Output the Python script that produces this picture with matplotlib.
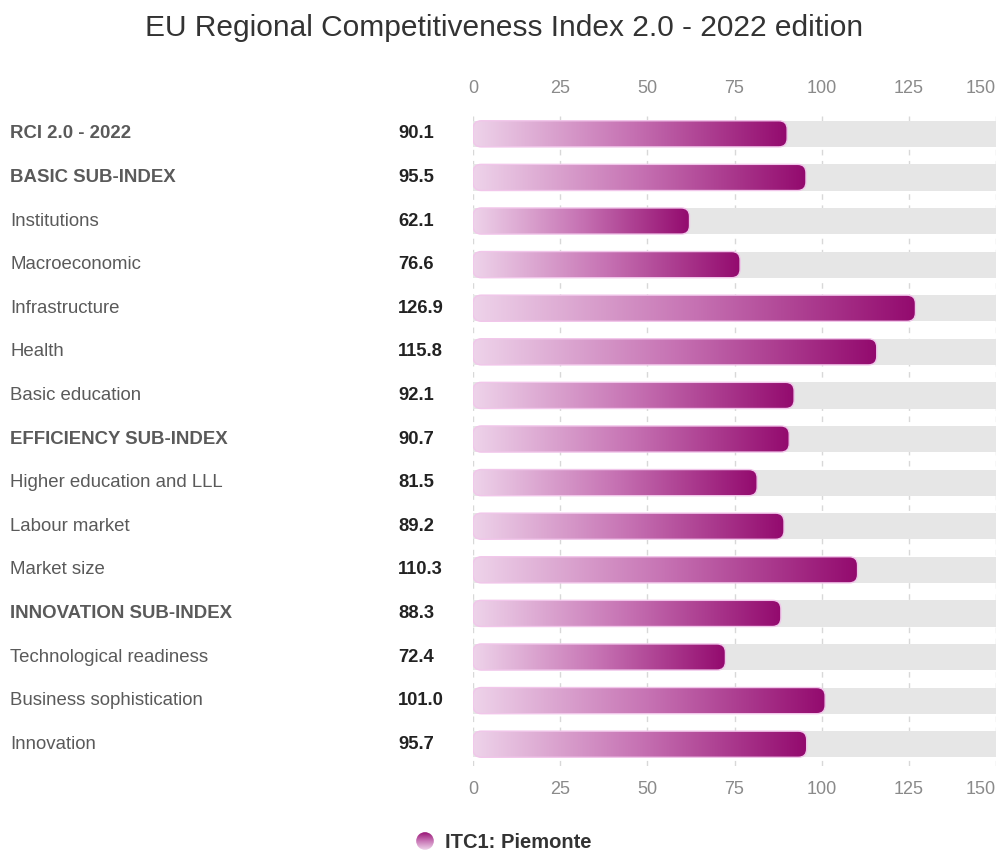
import matplotlib
matplotlib.use("Agg")
import matplotlib.pyplot as plt
import numpy as np
from matplotlib.colors import LinearSegmentedColormap
from matplotlib.patches import FancyBboxPatch, Circle

plt.rcParams["font.family"] = ["Liberation Sans", "DejaVu Sans"]

LABELS = [
    "RCI 2.0 - 2022", "BASIC SUB-INDEX", "Institutions", "Macroeconomic",
    "Infrastructure", "Health", "Basic education", "EFFICIENCY SUB-INDEX",
    "Higher education and LLL", "Labour market", "Market size",
    "INNOVATION SUB-INDEX", "Technological readiness",
    "Business sophistication", "Innovation",
]
VALUES = [90.1, 95.5, 62.1, 76.6, 126.9, 115.8, 92.1, 90.7, 81.5, 89.2,
          110.3, 88.3, 72.4, 101.0, 95.7]
BOLD = [True, True, False, False, False, False, False, True, False, False,
        False, True, False, False, False]
XMAX = 150
TICKS = [0, 25, 50, 75, 100, 125, 150]
SERIES = "ITC1: Piemonte"

CMAP = LinearSegmentedColormap.from_list(
    "pm", ["#eed3ea", "#c672b3", "#930a6e"])

fig = plt.figure(figsize=(10, 8.5), dpi=100)
fig.text(0.504, 0.967, "EU Regional Competitiveness Index 2.0 - 2022 edition",
         ha="center", va="center", fontsize=21.5, color="#333333")

ax = fig.add_axes([0.473, 0.0988, 0.523, 0.7694])
n = len(LABELS)
ax.set_xlim(0, XMAX)
ax.set_ylim(n - 0.5, -0.5)
for s in ax.spines.values():
    s.set_visible(False)
ax.set_yticks([])
ax.set_xticks(TICKS)
ax.tick_params(axis="x", top=True, labeltop=True, bottom=True, labelbottom=True,
               length=0, labelsize=13, labelcolor="#8a8a8a", pad=11)
for t in ax.xaxis.get_major_ticks()[-1:]:
    t.label1.set_horizontalalignment("right")
    t.label2.set_horizontalalignment("right")
ax.grid(axis="x", color="#d8d8d8", linestyle=(0, (4, 4)), linewidth=1)
ax.set_axisbelow(True)

h = 0.6
grad = np.linspace(0, 1, 256).reshape(1, -1)
aspect = (523 / XMAX) / (654 / n)
for i, v in enumerate(VALUES):
    ax.barh(i, XMAX, height=h, color="#e6e6e6", zorder=1)
    box = FancyBboxPatch((0, i - h / 2), v, h,
                         boxstyle="round,pad=0,rounding_size=2.4",
                         mutation_aspect=aspect,
                         facecolor="none", edgecolor="#f1c6ea", linewidth=1.0,
                         zorder=3)
    ax.add_patch(box)
    im = ax.imshow(grad, cmap=CMAP, aspect="auto",
                   extent=(0, v, i + h / 2, i - h / 2), zorder=2,
                   interpolation="bilinear")
    im.set_clip_path(box)
    ax.set_xlim(0, XMAX)
    ax.set_ylim(n - 0.5, -0.5)
    ax.text(-XMAX * 0.885, i, LABELS[i], ha="left", va="center", fontsize=13.4,
            color="#5a5a5a", fontweight="bold" if BOLD[i] else "normal")
    ax.text(-XMAX * 0.1435, i, f"{v:.1f}", ha="left", va="center",
            fontsize=13.2, color="#222222", fontweight="bold")

# legend
lax = fig.add_axes([0.416, 0.0, 0.018, 0.0212])
lax.set_axis_off()
lax.set_xlim(-1, 1)
lax.set_ylim(-1, 1)
circ = Circle((0, 0), 0.98, transform=lax.transData, facecolor="none",
              edgecolor="none")
lax.add_patch(circ)
vim = lax.imshow(np.linspace(1, 0, 64).reshape(-1, 1), cmap=CMAP,
                 extent=(-1, 1, -1, 1), aspect="auto")
vim.set_clip_path(circ)
fig.text(0.445, 0.0094, SERIES, ha="left", va="center", fontsize=14.5,
         fontweight="bold", color="#333333")

fig.savefig("out.png", dpi=100)
